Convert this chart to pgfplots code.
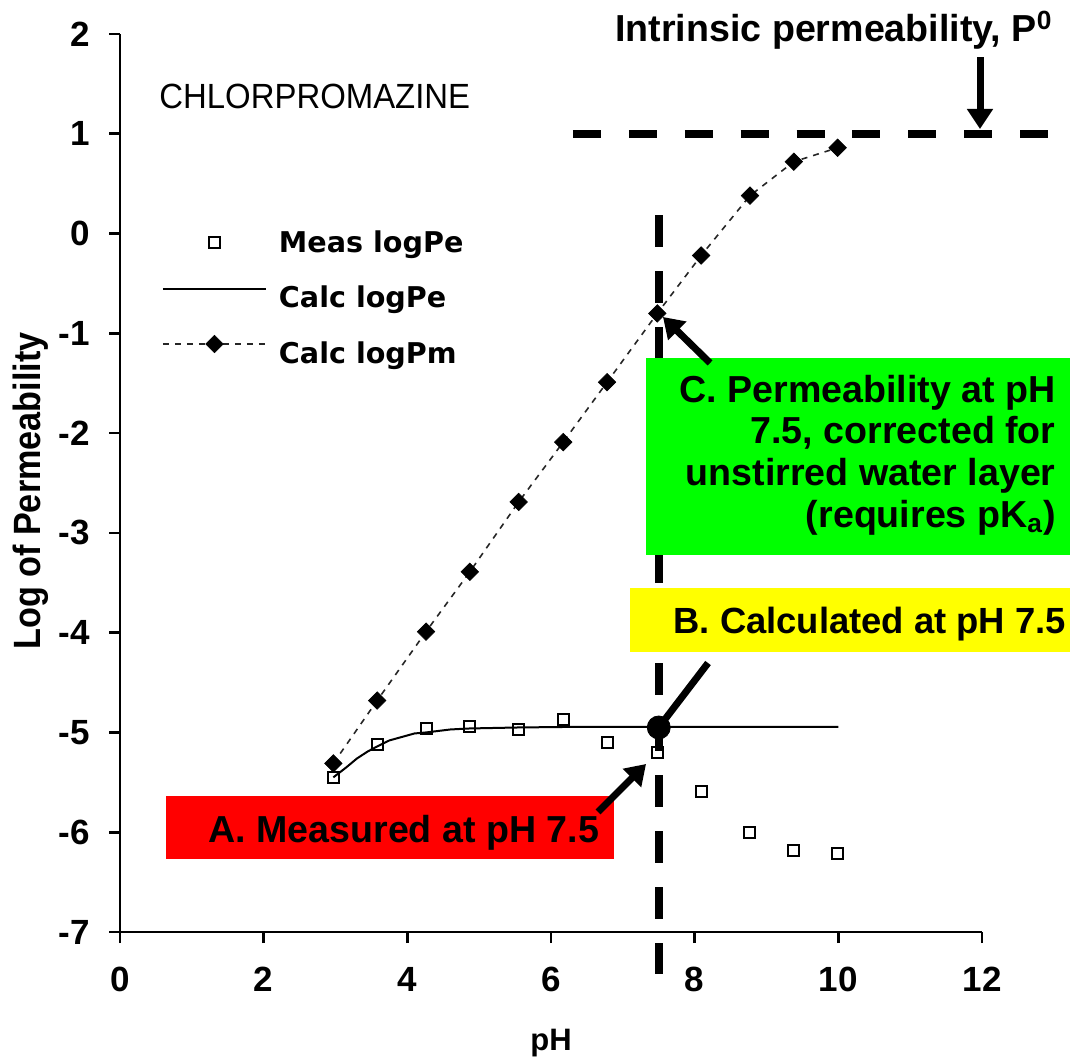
\documentclass[border=0pt]{standalone}
\usepackage{fontspec}
\setmainfont{Liberation Sans}
\newfontfamily\ylabfont{Liberation Sans}[FakeStretch=0.9]
\newfontfamily\chlfont{Liberation Sans}[FakeStretch=0.94]
\newfontfamily\legfont{DejaVu Sans}
\usepackage{pgfplots}
\pgfplotsset{compat=1.18}
\usetikzlibrary{arrows.meta}
\definecolor{grn}{RGB}{0,255,0}
\definecolor{ylw}{RGB}{255,255,0}
\definecolor{rd}{RGB}{255,0,0}
\newcommand{\annfont}{\fontsize{18.8}{20.5}\selectfont\bfseries}
\pgfplotsset{
  legsq/.style={legend image code/.code={\path[draw=none] (0pt,4.5pt) -- (51.5pt,4.5pt); \draw[##1, only marks] plot coordinates {(25.75pt,0pt)};}},
  legmark/.style={legend image code/.code={\path[draw=none] (0pt,4.5pt) -- (51.5pt,4.5pt); \draw[mark repeat=2, mark phase=2, ##1] plot coordinates {(0pt,4.5pt) (25.75pt,4.5pt) (51.5pt,4.5pt)};}},
  legline/.style={legend image code/.code={\draw[##1] (0pt,4.5pt) -- (51.5pt,4.5pt);}},
}
\begin{document}
\begin{tikzpicture}
\begin{axis}[
  width=431pt, height=449pt, scale only axis,
  xmin=0, xmax=12, ymin=-7, ymax=2,
  xtick={0,2,...,12}, ytick={-7,-6,...,2},
  axis lines*=left,
  axis line style={line width=1.3pt},
  tick style={line width=1.3pt, black},
  tick align=outside,
  major tick length=5.5pt,
  minor tick num=0,
  clip=false,
  /pgf/number format/assume math mode=true,
  ticklabel style={font=\fontsize{17.5}{19}\selectfont\bfseries},
  xticklabel style={inner sep=0pt, anchor=north, yshift=-12pt},
  yticklabel style={inner sep=0pt, anchor=east, xshift=-9.5pt},
  xlabel={pH}, ylabel={Log of Permeability},
  xlabel style={at={(axis description cs:0.5,-0.1314)}, anchor=base, font=\fontsize{15.5}{17}\selectfont\bfseries, inner sep=0pt},
  ylabel style={at={(axis description cs:-0.0928,0.491)}, anchor=base, font=\ylabfont\fontsize{19}{21}\selectfont\bfseries, inner sep=0pt},
  legend style={at={(axis description cs:0.0487,0.7884)}, anchor=north west, draw=none, fill=none, inner sep=0pt, outer sep=0pt, row sep=9.75pt, column sep=6pt, font=\legfont\fontsize{14.3}{16}\selectfont\bfseries, nodes={inner sep=0pt, text height=14pt, text depth=4pt}},
  legend cell align=left,
]
% reference lines
\addplot[line width=4pt, dash pattern=on 15.85pt off 12.15pt, forget plot] coordinates {(7.5,0.186) (7.5,-7.421)};
\addplot[line width=4pt, dash pattern=on 14pt off 13.95pt, forget plot] coordinates {(6.306,1) (12.947,1)};
% data
\addplot[only marks, mark=square, mark size=2.75pt, mark options={line width=1pt, black}, legsq]
  coordinates {(2.97,-5.45) (3.58,-5.12) (4.26,-4.96) (4.87,-4.94) (5.55,-4.97) (6.17,-4.87) (6.78,-5.10) (7.48,-5.20) (8.09,-5.59) (8.77,-6.00) (9.38,-6.18) (9.99,-6.21)};
\addlegendentry{Meas logPe}
\addplot[black, line width=1pt, legline]
  coordinates {(2.97,-5.45) (3.15,-5.35) (3.3,-5.26) (3.45,-5.19) (3.58,-5.14) (3.75,-5.08) (3.95,-5.04) (4.1,-5.01) (4.26,-5.00) (4.6,-4.97) (4.87,-4.96) (5.55,-4.95) (6.2,-4.945) (10,-4.945)};
\addlegendentry{Calc logPe}
\addplot[black!85, line width=0.8pt, dash pattern=on 3pt off 3pt, mark=square*, mark size=3.1pt, mark options={rotate=45, solid, fill=black, draw=black, line width=0.3pt}, legmark]
  coordinates {(2.97,-5.31) (3.58,-4.68) (4.26,-3.99) (4.87,-3.39) (5.55,-2.69) (6.17,-2.09) (6.78,-1.49) (7.48,-0.80) (8.09,-0.22) (8.77,0.38) (9.38,0.72) (9.99,0.86)};
\addlegendentry{Calc logPm}
% calculated point
\addplot[only marks, mark=*, mark size=5.75pt, black, forget plot] coordinates {(7.5,-4.95)};
% boxes
\fill[grn] (axis cs:7.323,-1.247) rectangle (axis cs:13.225,-3.222);
\fill[ylw] (axis cs:7.100,-3.552) rectangle (axis cs:13.225,-4.194);
\fill[rd] (axis cs:0.640,-5.637) rectangle (axis cs:6.877,-6.268);
% texts
\node[anchor=base west, inner sep=0pt, font=\chlfont\fontsize{17.5}{19}\selectfont] at (axis cs:0.543,1.258) {CHLORPROMAZINE};
\node[anchor=base west, inner sep=0pt, font=\annfont] at (axis cs:6.891,1.920) {Intrinsic permeability, P\textsuperscript{0}};
\node[anchor=base east, inner sep=0pt, font=\annfont] at (axis cs:13.030,-1.698) {C. Permeability at pH};
\node[anchor=base east, inner sep=0pt, font=\annfont] at (axis cs:13.030,-2.109) {7.5, corrected for};
\node[anchor=base east, inner sep=0pt, font=\annfont] at (axis cs:13.030,-2.520) {unstirred water layer};
\node[anchor=base east, inner sep=0pt, font=\annfont] at (axis cs:13.030,-2.941) {(requires pK\textsubscript{a})};
\node[anchor=base west, inner sep=0pt, font=\fontsize{18.2}{20}\selectfont\bfseries] at (axis cs:7.70,-4.013) {B. Calculated at pH 7.5};
\node[anchor=base west, inner sep=0pt, font=\annfont] at (axis cs:1.225,-6.098) {A. Measured at pH 7.5};
% arrows
\draw[line width=3.5pt, -{Triangle[length=10pt,width=12.5pt]}] (axis cs:11.972,1.769) -- (axis cs:11.972,1.048);
\draw[line width=3.5pt, -{Triangle[length=10pt,width=12.5pt]}] (axis cs:6.654,-5.797) -- (axis cs:7.323,-5.316);
\draw[line width=3.5pt, -{Triangle[length=10pt,width=12.5pt]}] (axis cs:8.214,-1.297) -- (axis cs:7.559,-0.836);
\draw[line width=3.5pt] (axis cs:7.5,-4.95) -- (axis cs:8.186,-4.304);
% bounding box corners
\coordinate (BBsw) at (axis cs:-1.6706,-8.253);
\coordinate (BBne) at (axis cs:13.225,2.3408);
\end{axis}
\pgfresetboundingbox
\useasboundingbox (BBsw) rectangle (BBne);
\end{tikzpicture}
\end{document}
